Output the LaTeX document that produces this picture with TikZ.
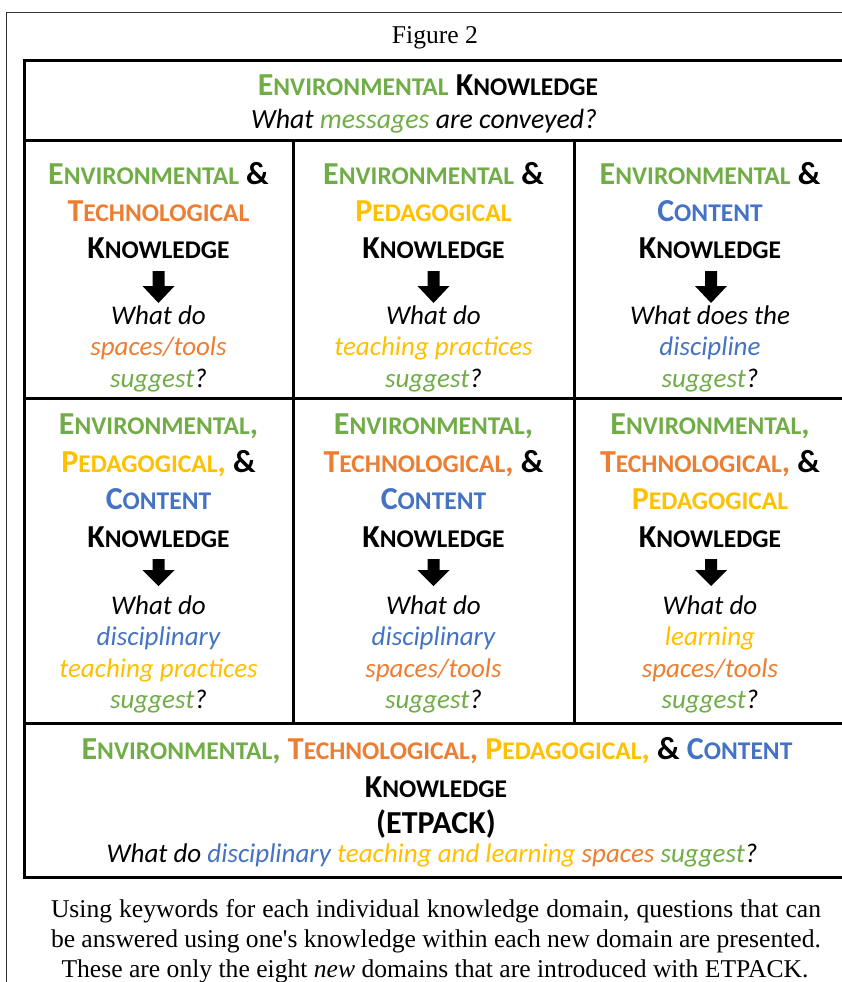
\documentclass[tikz,border=0pt]{standalone}
\usepackage{fontspec}
\setmainfont{Carlito}
\newfontfamily\capfont{Liberation Serif}
\definecolor{eg}{HTML}{70AD47}
\definecolor{to}{HTML}{ED7D31}
\definecolor{py}{HTML}{FFC000}
\definecolor{cb}{HTML}{4472C4}
\newcommand\BigS{\fontsize{32}{34}\selectfont}
\newcommand\SmS{\fontsize{25.5}{34}\selectfont}
\newcommand\SK[2]{{\BigS #1}{\SmS #2}}
\newcommand\EnvW{\textcolor{eg}{\SK{E}{NVIRONMENTAL}}}
\newcommand\TechW{\textcolor{to}{\SK{T}{ECHNOLOGICAL}}}
\newcommand\PedW{\textcolor{py}{\SK{P}{EDAGOGICAL}}}
\newcommand\ContW{\textcolor{cb}{\SK{C}{ONTENT}}}
\newcommand\KnowW{\SK{K}{NOWLEDGE}}
\newcommand\Amp{{\BigS\&}}
\newcommand\Cm[1]{\textcolor{#1}{\BigS,}}
\newcommand\darrow[4]{% x, top, headstart, tip
  \fill[black] (#1-6,#2) -- (#1+6,#2) -- (#1+6,#3) -- (#1+16,#3) -- (#1,#4) -- (#1-16,#3) -- (#1-6,#3) -- cycle;}
\begin{document}
\begin{tikzpicture}[x=1pt,y=-1pt,
  hd/.style={anchor=base,inner sep=0pt,font=\bfseries\BigS},
  qs/.style={anchor=base,inner sep=0pt,font=\itshape\fontsize{27}{30}\selectfont},
  captxt/.style={anchor=base,inner sep=0pt,font=\capfont\fontsize{25.6}{28}\selectfont},
  tbl/.style={line width=3pt,black},
  outframe/.style={line width=1.3pt,black!80}]
\useasboundingbox (0,0) rectangle (841,982);
% outer frame
\draw[outframe] (6.5,990) -- (6.5,12.5) -- (860,12.5);
% table
\draw[tbl] (24.5,61) rectangle (860,877);
\draw[tbl] (24.5,140.5) -- (860,140.5);
\draw[tbl] (24.5,398.5) -- (860,398.5);
\draw[tbl] (24.5,723.5) -- (860,723.5);
\draw[tbl] (293,140.5) -- (293,723.5);
\draw[tbl] (574,140.5) -- (574,723.5);

\node[captxt] (fig) at (435,44) {Figure 2};

% top row
\node[hd] (t1) at (428,95) {\EnvW\ \KnowW};
\node[qs,font=\itshape\fontsize{27.8}{30}\selectfont] (t2) at (424,128) {What \textcolor{eg}{messages} are conveyed?};

% row 2, left
\node[hd] (a1) at (158.5,184) {\EnvW\ \Amp};
\node[hd] (a2) at (158.5,221) {\TechW};
\node[hd] (a3) at (158.5,258) {\KnowW};
\darrow{158.5}{271}{286}{303}
\node[qs] (a4) at (158.5,324) {What do};
\node[qs] (a5) at (158.5,355.5) {\textcolor{to}{spaces/tools}};
\node[qs] (a6) at (158.5,387) {\textcolor{eg}{suggest}?};
% row 2, middle
\node[hd] (b1) at (433.5,184) {\EnvW\ \Amp};
\node[hd] (b2) at (433.5,221) {\PedW};
\node[hd] (b3) at (433.5,258) {\KnowW};
\darrow{433.5}{271}{286}{303}
\node[qs] (b4) at (433.5,324) {What do};
\node[qs] (b5) at (433.5,355.5) {\textcolor{py}{teaching practices}};
\node[qs] (b6) at (433.5,387) {\textcolor{eg}{suggest}?};
% row 2, right
\node[hd] (c1) at (710,184) {\EnvW\ \Amp};
\node[hd] (c2) at (710,221) {\ContW};
\node[hd] (c3) at (710,258) {\KnowW};
\darrow{711}{271}{286}{303}
\node[qs] (c4) at (710,324) {What does the};
\node[qs] (c5) at (710,355.5) {\textcolor{cb}{discipline}};
\node[qs] (c6) at (710,387) {\textcolor{eg}{suggest}?};

% row 3, left
\node[hd] (d1) at (158.5,434) {\EnvW\Cm{eg}};
\node[hd] (d2) at (158.5,472) {\PedW\Cm{py} \Amp};
\node[hd] (d3) at (158.5,509) {\ContW};
\node[hd] (d4) at (158.5,547) {\KnowW};
\darrow{158.5}{559}{570}{586}
\node[qs] (d5) at (158.5,614) {What do};
\node[qs] (d6) at (158.5,645) {\textcolor{cb}{disciplinary}};
\node[qs] (d7) at (158.5,677) {\textcolor{py}{teaching practices}};
\node[qs] (d8) at (158.5,708) {\textcolor{eg}{suggest}?};
% row 3, middle
\node[hd] (e1) at (433.5,434) {\EnvW\Cm{eg}};
\node[hd] (e2) at (433.5,472) {\TechW\Cm{to} \Amp};
\node[hd] (e3) at (433.5,509) {\ContW};
\node[hd] (e4) at (433.5,547) {\KnowW};
\darrow{433.5}{559}{570}{586}
\node[qs] (e5) at (433.5,614) {What do};
\node[qs] (e6) at (433.5,645) {\textcolor{cb}{disciplinary}};
\node[qs] (e7) at (433.5,677) {\textcolor{to}{spaces/tools}};
\node[qs] (e8) at (433.5,708) {\textcolor{eg}{suggest}?};
% row 3, right
\node[hd] (f1) at (710,434) {\EnvW\Cm{eg}};
\node[hd] (f2) at (710,472) {\TechW\Cm{to} \Amp};
\node[hd] (f3) at (710,509) {\PedW};
\node[hd] (f4) at (710,547) {\KnowW};
\darrow{711}{559}{570}{586}
\node[qs] (f5) at (710,614) {What do};
\node[qs] (f6) at (710,645) {\textcolor{py}{learning}};
\node[qs] (f7) at (710,677) {\textcolor{to}{spaces/tools}};
\node[qs] (f8) at (710,708) {\textcolor{eg}{suggest}?};

% bottom row
\node[hd] (g1) at (437,759) {\EnvW\Cm{eg} \TechW\Cm{to} \PedW\Cm{py} \Amp\ \ContW};
\node[hd] (g2) at (436,797) {\KnowW};
\node[hd] (g3) at (436,833) {(ETPACK)};
\node[qs] (g4) at (432,862) {What do \textcolor{cb}{disciplinary} \textcolor{py}{teaching and learning} \textcolor{to}{spaces} \textcolor{eg}{suggest}?};

% caption
\node[captxt] (l1) at (436,917) {\makebox[770pt][s]{Using keywords for each individual knowledge domain, questions that can}};
\node[captxt] (l2) at (436,947) {\makebox[770pt][s]{be answered using one's knowledge within each new domain are presented.}};
\node[captxt] (l3) at (435,977) {These are only the eight \textit{new} domains that are introduced with ETPACK.};
\end{tikzpicture}
\end{document}
